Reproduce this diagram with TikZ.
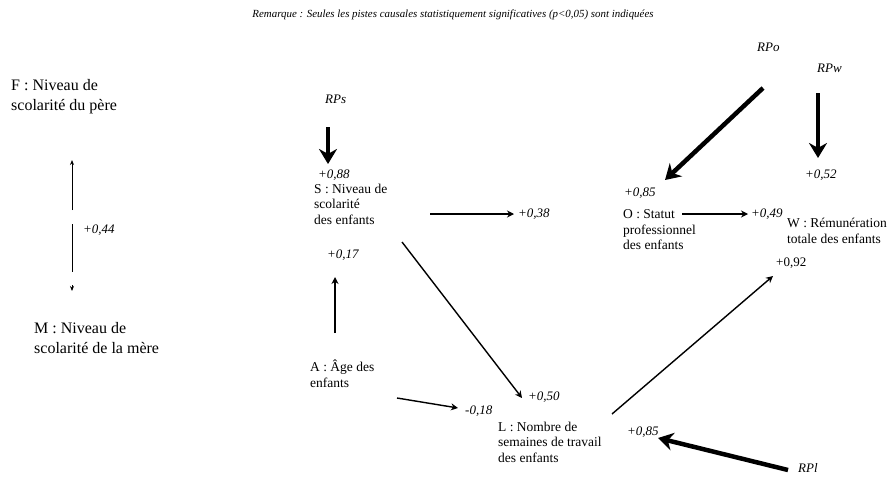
\documentclass[tikz,border=0pt]{standalone}
\usepackage{fontspec}
\setmainfont{Liberation Serif}
\usetikzlibrary{arrows.meta}
\begin{document}
\begin{tikzpicture}[x=1pt,y=-1pt,
  var/.style={anchor=west,align=left,inner sep=0pt,font=\fontsize{13.5}{15.5}\selectfont},
  bigvar/.style={anchor=west,align=left,inner sep=0pt,font=\fontsize{16}{20}\selectfont},
  coef/.style={anchor=west,inner sep=0pt,font=\fontsize{13}{15}\selectfont\itshape},
  upcoef/.style={anchor=west,inner sep=0pt,font=\fontsize{13}{15}\selectfont},
  causal/.style={line width=1.4pt,-{Stealth[length=7pt,width=7pt]}},
  resarrow/.style={line width=4.5pt,-{Stealth[length=15pt,width=18pt]}},
  corr/.style={line width=0.9pt},
  corrtip/.style={line width=0.9pt,-{Stealth[length=5pt,width=4pt]}}
]
\useasboundingbox (0,0) rectangle (890,477);

% note
\node[font=\fontsize{10.9}{12}\selectfont\itshape] (note) at (453,15)
  {Remarque : Seules les pistes causales statistiquement significatives (p<0,05) sont indiquées};

% parents' schooling and their correlation
\node[bigvar] (F) at (11,97) {F : Niveau de\\scolarité du père};
\node[bigvar] (M) at (34,338) {M : Niveau de\\scolarité de la mère};
\coordinate (fmA) at (72,210);
\coordinate (fmB) at (72,160);
\coordinate (fmC) at (72,224);
\coordinate (fmD) at (72,272);
\coordinate (fmE) at (72,285);
\coordinate (fmF) at (72,291);
\draw[corrtip] (fmA) -- (fmB);
\draw[corr] (fmC) -- (fmD);
\draw[corrtip] (fmE) -- (fmF);
\node[coef] (cFM) at (83,230) {+0,44};

% variables
\node[var] (S) at (314,204) {S : Niveau de\\scolarité\\des enfants};
\node[var] (A) at (310,374) {A : Âge des\\enfants};
\node[var] (L) at (498,442) {L : Nombre de\\semaines de travail\\des enfants};
\node[var] (O) at (623,230) {O : Statut\\professionnel\\des enfants};
\node[var] (W) at (787,231) {W : Rémunération\\totale des enfants};

% residual terms
\node[coef] (RPs) at (325,99) {RPs};
\node[coef] (RPo) at (757,47) {RPo};
\node[coef] (RPw) at (817,68) {RPw};
\node[coef] (RPl) at (798,468) {RPl};

% coefficients
\node[coef] (cS) at (318,175) {+0,88};
\node[coef] (cAS) at (327,255) {+0,17};
\node[coef] (cSO) at (518,214) {+0,38};
\node[coef] (cSL) at (528,397) {+0,50};
\node[coef] (cAL) at (465,411) {-0,18};
\node[coef] (cL) at (627,432) {+0,85};
\node[coef] (cO) at (624,193) {+0,85};
\node[coef] (cOW) at (751,214) {+0,49};
\node[coef] (cW) at (805,175) {+0,52};
\node[upcoef] (cLW) at (776,263) {+0,92};

% connector end points
\coordinate (rpsA) at (328,127);  \coordinate (rpsB) at (328,164);
\coordinate (soA) at (430,214);   \coordinate (soB) at (514,214);
\coordinate (slA) at (402,242);   \coordinate (slB) at (522,398);
\coordinate (asA) at (335,333);   \coordinate (asB) at (335,277);
\coordinate (alA) at (397,398);   \coordinate (alB) at (458,408);
\coordinate (lwA) at (612,414);   \coordinate (lwB) at (773,276);
\coordinate (rplA) at (788,470);  \coordinate (rplB) at (658,438);
\coordinate (rpoA) at (763,88);   \coordinate (rpoB) at (665,180);
\coordinate (rpwA) at (818,93);   \coordinate (rpwB) at (818,158);
\coordinate (owA) at (682,214);   \coordinate (owB) at (748,214);

% causal paths
\draw[causal] (soA) -- (soB);
\draw[causal] (slA) -- (slB);
\draw[causal] (asA) -- (asB);
\draw[causal] (alA) -- (alB);
\draw[causal] (lwA) -- (lwB);
\draw[causal] (owA) -- (owB);

% residual paths
\draw[resarrow] (rpsA) -- (rpsB);
\draw[resarrow] (rplA) -- (rplB);
\draw[resarrow] (rpoA) -- (rpoB);
\draw[resarrow] (rpwA) -- (rpwB);
\end{tikzpicture}
\end{document}
